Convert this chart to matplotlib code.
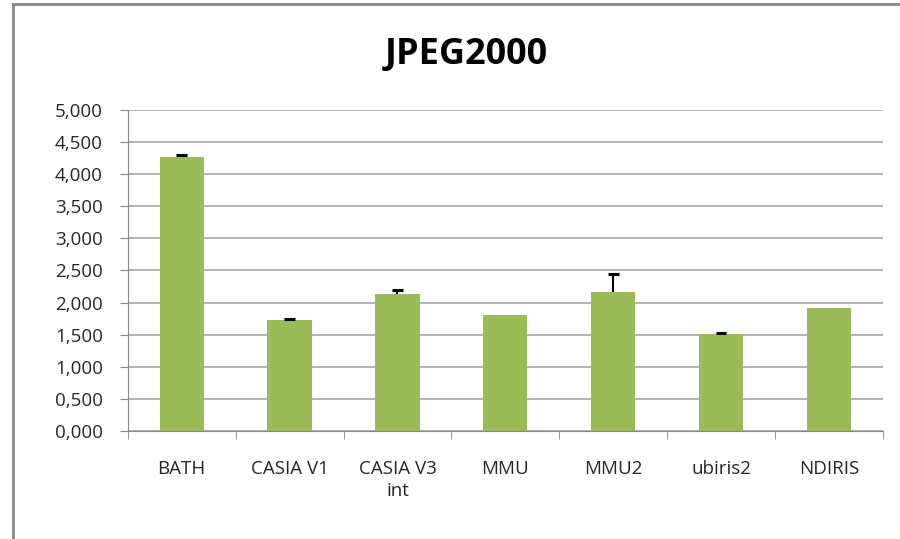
import numpy as np
import matplotlib.pyplot as plt
from matplotlib.ticker import FuncFormatter

# datos
categorias = ["BATH", "CASIA V1", "CASIA V3\nint", "MMU", "MMU2", "ubiris2", "NDIRIS"]
valores = [4.27, 1.73, 2.14, 1.80, 2.16, 1.51, 1.92]
errores = [0.03, 0.02, 0.06, 0.0, 0.28, 0.02, 0.0]

plt.rcParams['font.family'] = ['Open Sans', 'DejaVu Sans']

fig = plt.figure(figsize=(9, 5.39), dpi=100)
ax = fig.add_axes([0.142, 0.2004, 0.839, 0.5956])

x = np.arange(len(categorias))
v = np.array(valores)
e = np.array(errores)
ax.bar(x, v, width=0.41, color='#9bbb59', zorder=3)

# barras de error solo hacia arriba (como en Excel)
con_error = e > 0
ax.vlines(x[con_error], v[con_error], v[con_error] + e[con_error], color='black', lw=1.5, zorder=4)
ax.hlines(v[con_error] + e[con_error], x[con_error] - 0.05, x[con_error] + 0.05, color='black', lw=2.2, zorder=4)

ax.set_xlim(-0.5, len(categorias) - 0.5)
ax.set_ylim(0, 5)
ax.set_yticks(np.arange(0, 5.01, 0.5))
ax.yaxis.set_major_formatter(FuncFormatter(lambda val, p: f"{val:.3f}".replace('.', ',')))
ax.set_xticks(x)
ax.set_xticklabels(categorias, fontsize=13.5, color='#262626', linespacing=1.3)
ax.set_xticks(np.arange(-0.5, len(categorias)), minor=True)
ax.tick_params(axis='x', which='major', length=0, pad=21)
ax.tick_params(axis='x', which='minor', length=6, color='#888888')
ax.tick_params(axis='y', length=6, color='#888888', labelsize=13.5, labelcolor='#262626', pad=12)
ax.grid(axis='y', color='#a6a6a6', linewidth=1.2, zorder=0)

for s in ['top', 'right']:
    ax.spines[s].set_visible(False)
ax.spines['left'].set_color('#888888')
ax.spines['bottom'].set_color('#888888')

fig.text(466 / 900, 1 - 55 / 539, "JPEG2000", fontsize=26, fontweight='bold',
         ha='center', va='center')

# marco del grafico
fig.add_artist(plt.Line2D([12.5 / 900, 12.5 / 900], [0, 1 - 4 / 539], color='#888888', lw=2))
fig.add_artist(plt.Line2D([12.5 / 900, 1], [1 - 4 / 539, 1 - 4 / 539], color='#888888', lw=2))

fig.savefig("out.png", dpi=100)
